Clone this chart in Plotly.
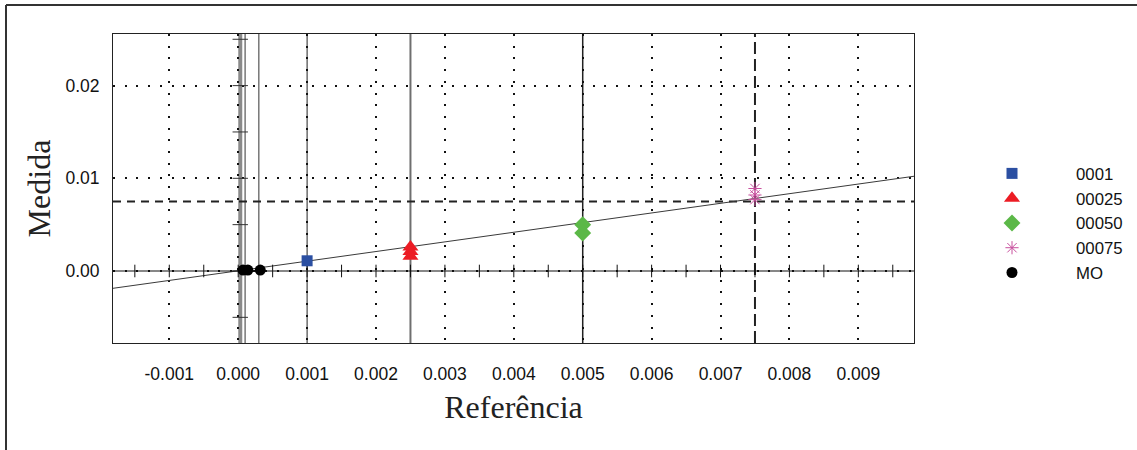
import plotly.graph_objects as go

# ---------------- data ----------------
s0001_x = [0.001]
s0001_y = [0.0011]
s00025_x = [0.0025, 0.0025, 0.0025]
s00025_y = [0.0026, 0.0021, 0.0016]
s00050_x = [0.005, 0.005]
s00050_y = [0.0050, 0.0041]
s00075_x = [0.0075, 0.0075, 0.0075]
s00075_y = [0.0089, 0.0082, 0.0077]
mo_x = [0.00007, 0.00014, 0.00032]
mo_y = [0.0001, 0.0001, 0.0001]

fit_slope = 1.04
fit_intercept = 0.00002

target_value = 0.0075                      # dashed cross-hair
ref_lines = [0.00003, 0.0001, 0.0003, 0.001, 0.0025, 0.005]

x_range = [-0.001817, 0.009808]
y_range = [-0.00777, 0.02557]
x_tickvals = [-0.001, 0.000, 0.001, 0.002, 0.003, 0.004, 0.005, 0.006, 0.007, 0.008, 0.009]
x_ticktext = ["-0.001", "0.000", "0.001", "0.002", "0.003", "0.004", "0.005", "0.006", "0.007", "0.008", "0.009"]
y_tickvals = [0.00, 0.01, 0.02]
y_ticktext = ["0.00", "0.01", "0.02"]
x_axis_minor = [-0.0015, -0.001, -0.0005, 0.0, 0.0005, 0.001, 0.0015, 0.002, 0.0025, 0.003,
                0.0035, 0.004, 0.0045, 0.005, 0.0055, 0.006, 0.0065, 0.007, 0.0075, 0.008,
                0.0085, 0.009, 0.0095]
y_axis_minor = [-0.005, 0.0, 0.005, 0.01, 0.015, 0.02, 0.025]

W, H = 1137, 450
ML, MR, MT, MB = 113, 223, 34, 107

fig = go.Figure()

# regression line
fig.add_trace(go.Scatter(
    x=x_range, y=[fit_intercept + fit_slope * v for v in x_range],
    mode="lines", line=dict(color="#3a3a3a", width=1), showlegend=False, hoverinfo="skip"))

# crossing axis at y = 0 with ticks
fig.add_trace(go.Scatter(
    x=x_range, y=[0, 0], mode="lines", line=dict(color="#111", width=1.2),
    showlegend=False, hoverinfo="skip"))
fig.add_trace(go.Scatter(
    x=x_axis_minor, y=[0] * len(x_axis_minor), mode="markers",
    marker=dict(symbol="line-ns-open", size=9, color="#111", line=dict(color="#111", width=1)),
    showlegend=False, hoverinfo="skip"))
fig.add_trace(go.Scatter(
    x=[ref_lines[0]] * len(y_axis_minor), y=y_axis_minor, mode="markers",
    marker=dict(symbol="line-ew-open", size=11, color="#333", line=dict(color="#333", width=1)),
    showlegend=False, hoverinfo="skip"))

# series
fig.add_trace(go.Scatter(x=s0001_x, y=s0001_y, mode="markers", name="0001",
                         marker=dict(symbol="square", size=11, color="#2B4FA2")))
fig.add_trace(go.Scatter(x=s00025_x, y=s00025_y, mode="markers", name="00025",
                         marker=dict(symbol="triangle-up", size=14, color="#EC1C24")))
fig.add_trace(go.Scatter(x=s00050_x, y=s00050_y, mode="markers", name="00050",
                         marker=dict(symbol="diamond", size=13, color="#5BB847")))
fig.add_trace(go.Scatter(x=s00075_x, y=s00075_y, mode="markers", name="00075",
                         marker=dict(symbol="asterisk-open", size=11, color="#C8509E",
                                     line=dict(color="#C8509E", width=1))))
fig.add_trace(go.Scatter(x=mo_x, y=mo_y, mode="markers", name="MO",
                         marker=dict(symbol="circle", size=11, color="#000000")))

# vertical reference lines
ref_styles = [dict(color="#8a8a8a", width=4), dict(color="#333", width=1),
              dict(color="#333", width=1), dict(color="#222", width=1),
              dict(color="#6f6f6f", width=2), dict(color="#222", width=1.5)]
for v, st in zip(ref_lines, ref_styles):
    fig.add_shape(type="line", xref="x", yref="paper", x0=v, x1=v, y0=0, y1=1,
                  line=st, layer="between")

# dashed target cross-hair
fig.add_shape(type="line", xref="paper", yref="y", x0=0, x1=1, y0=target_value, y1=target_value,
              line=dict(color="#222", width=2, dash="8px,6px"), layer="between")
fig.add_shape(type="line", xref="x", yref="paper", x0=target_value, x1=target_value, y0=0, y1=1,
              line=dict(color="#222", width=2, dash="12px,5px"), layer="between")

# outer frame (top and left edges)
pw = W - ML - MR
ph = H - MT - MB
fx0 = (6 - ML) / pw
fx1 = (W + 5 - ML) / pw
fy_top = 1 + (MT - 5) / ph
fy_bot = -(MB + 5) / ph
fig.add_shape(type="line", xref="paper", yref="paper", x0=fx0, x1=fx1, y0=fy_top, y1=fy_top,
              line=dict(color="#333", width=2))
fig.add_shape(type="line", xref="paper", yref="paper", x0=fx0, x1=fx0, y0=fy_top, y1=fy_bot,
              line=dict(color="#333", width=2))

tickfont = dict(family="Liberation Sans, Arial, sans-serif", size=17.5, color="#111")
titlefont = dict(family="Liberation Serif, Times New Roman, serif", size=32, color="#222")

fig.update_xaxes(
    range=x_range, tickvals=x_tickvals, ticktext=x_ticktext, tickfont=tickfont,
    showgrid=True, gridcolor="#111", gridwidth=2, griddash="2px,9.7px",
    zeroline=False, showline=True, mirror=True, linecolor="#222", linewidth=1,
    ticks="", ticklabelstandoff=15,
    title=dict(text="Referência", font=titlefont, standoff=12))
fig.update_yaxes(
    range=y_range, tickvals=y_tickvals, ticktext=y_ticktext, tickfont=tickfont,
    showgrid=True, gridcolor="#111", gridwidth=2, griddash="2px,9.7px",
    zeroline=False, showline=True, mirror=True, linecolor="#222", linewidth=1,
    ticks="", ticklabelstandoff=9,
    title=dict(text="Medida", font=titlefont, standoff=5))

fig.update_layout(
    width=W, height=H, autosize=False,
    margin=dict(l=ML, r=MR, t=MT, b=MB, pad=0),
    paper_bgcolor="white", plot_bgcolor="white",
    showlegend=True,
    legend=dict(xref="container", yref="container", x=948 / W, y=1 - 156 / H,
                xanchor="left", yanchor="top",
                font=dict(family="Liberation Sans, Arial, sans-serif", size=16.75, color="#111"),
                itemwidth=118, bgcolor="rgba(0,0,0,0)",
                itemclick=False, itemdoubleclick=False),
)

fig.write_html("out.html")
